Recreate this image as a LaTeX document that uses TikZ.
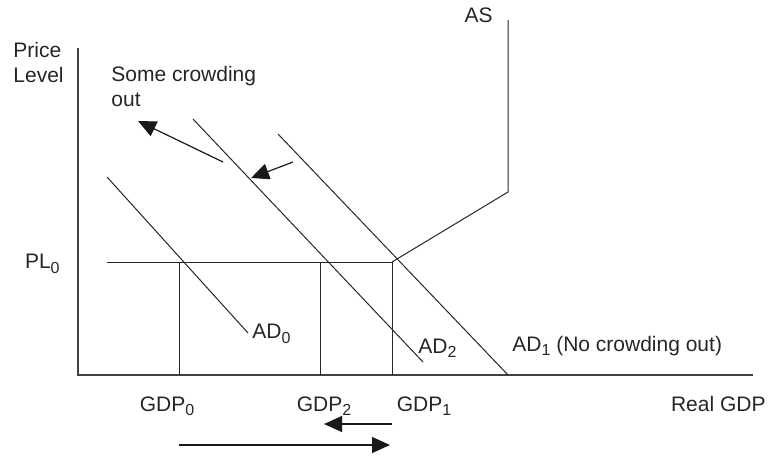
\documentclass[tikz,border=0pt]{standalone}
\usepackage{fontspec}
\setmainfont{Liberation Sans}
\usepackage{xcolor}
\usetikzlibrary{arrows.meta, positioning}

\newcommand{\sub}[1]{\raisebox{-0.4ex}{\fontsize{8}{9}\selectfont #1}}

\begin{document}
\begin{tikzpicture}[
  x=0.5pt, y=-0.5pt,
  lbl/.style={font=\fontsize{10.5}{12.5}\selectfont, text=black!85, inner sep=0pt},
  curve/.style={draw=black!85, line width=0.5pt},
  axis/.style={draw=black!75, line width=0.7pt},
  arrow/.style={-{Triangle[length=9pt, width=8pt]}, draw=black!90, line width=0.6pt}
]
\useasboundingbox (0,0) rectangle (770,456);

% axes
\coordinate (orig) at (78,375);
\draw[axis] (78,48) -- (orig) -- (753,375);

% labels on the axes
\node[lbl, anchor=north west, align=left] (pl) at (13,42) {Price\\Level};
\node[lbl, anchor=east] (pl0) at (60,264) {PL\sub{0}};
\node[lbl, anchor=east] (rgdp) at (766,404) {Real GDP};
\node[lbl] (gdp0) at (167,406) {GDP\sub{0}};
\node[lbl] (gdp2) at (324,406) {GDP\sub{2}};
\node[lbl] (gdp1) at (424,406) {GDP\sub{1}};

% aggregate supply
\coordinate (e1) at (392,262);
\draw[curve] (e1) -- (508,192) -- (508,20);
\node[lbl, anchor=south east] (as) at (493,23) {AS};

% price level and output levels
\draw[curve] (107,262) -- (e1);
\draw[curve] (179,262) -- (179,375);
\draw[curve] (320,262) -- (320,375);
\draw[curve] (e1) -- (392,375);

% aggregate demand curves
\draw[curve] (107,177) -- (248,333);
\node[lbl, anchor=west] (ad0) at (252,334) {AD\sub{0}};
\draw[curve] (193,119) -- (423,362);
\node[lbl, anchor=west] (ad2) at (418,348) {AD\sub{2}};
\draw[curve] (278,134) -- (508,375);
\node[lbl, anchor=west] (ad1) at (512,346) {AD\sub{1} (No crowding out)};

% crowding out
\node[lbl, anchor=north west, align=left] (crowd) at (111,66) {Some crowding\\out};
\coordinate (c1) at (223,162);
\coordinate (c2) at (138,121);
\coordinate (d1) at (293,162);
\coordinate (d2) at (251,178);
\draw[arrow] (c1) -- (c2);
\draw[arrow] (d1) -- (d2);

% shifts of output
\coordinate (s1) at (392,424);
\coordinate (s2) at (324,424);
\coordinate (t1) at (179,445);
\coordinate (t2) at (390,445);
\draw[arrow] (s1) -- (s2);
\draw[arrow] (t1) -- (t2);
\end{tikzpicture}
\end{document}
